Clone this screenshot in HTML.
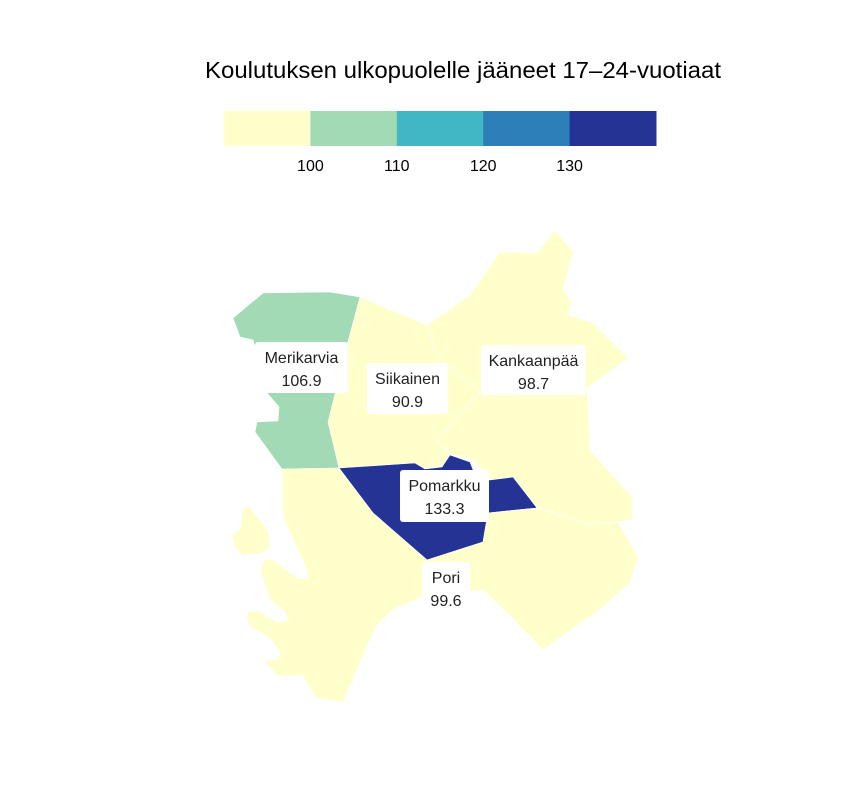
<!DOCTYPE html>
<html><head><meta charset="utf-8"><style>
body{margin:0;background:#fff;}
svg{display:block;font-family:"Liberation Sans",sans-serif;}
</style></head><body>
<svg width="864" height="792" viewBox="0 0 864 792">
<text x="463" y="78" text-anchor="middle" font-size="23" textLength="516" lengthAdjust="spacingAndGlyphs" fill="#000">Koulutuksen ulkopuolelle jääneet 17–24-vuotiaat</text>
<g id="legend"></g>
<g id="map"></g>
<g id="labels"></g>
</svg>
<script>
const regions=["Merikarvia","Siikainen","Kankaanpää","Pomarkku","Pori"];
const values=[106.9,90.9,98.7,133.3,99.6];
const breaks=[100,110,120,130];
const colors=["#ffffcc","#a1dab4","#41b6c4","#2c7fb8","#253494"];
const shapes={
"Merikarvia":["233,318 263,293 330,292 360,297 348,342 330,422 339,468 282,469 255,432 257,422 278,421 279,407 267,393 253,340 240,337"],
"Siikainen":["360,297 427,325 437,355 480,393 437,440 450,453 442,467 423,468 415,463 339,468 328,422 348,342"],
"Kankaanpää":["427,325 470,295 500,252 537,253 555,230 573,252 563,290 572,302 568,315 593,323 628,358 587,388 590,450 633,498 632,520 590,525 538,508 513,477 490,480 475,462 470,458 453,455 450,453 437,440 480,393 437,355"],
"Pomarkku":["339,468 415,463 425,469 442,467 450,455 470,462 477,480 490,480 513,477 537,508 488,513 483,542 427,560 373,513"],
"Pori":["282,469 339,468 373,513 427,560 483,542 488,513 537,508 590,525 618,522 638,557 630,583 603,607 543,650 507,613 483,590 422,597 392,610 375,628 343,702 317,698 302,675 278,676 263,660 278,660 280,652 270,638 252,628 247,620 248,612 258,611 277,622 288,620 285,612 270,600 260,570 265,560 272,559 297,578 308,579 307,570 283,517",
"232,535 240,530 243,507 250,507 268,530 270,547 262,553 243,555 235,547"]
};
const boxes={"Merikarvia":[255,342,93,51],"Siikainen":[367,363,81,51],"Kankaanpää":[481,345,105,50],"Pomarkku":[400,470,89,52],"Pori":[422,562,48,45]};
function colorFor(v){let i=0;while(i<breaks.length&&v>=breaks[i])i++;return colors[i];}
const NS="http://www.w3.org/2000/svg";
const lg=document.getElementById("legend");
const lx0=224,lw=86.4,ly=111,lh=35;
colors.forEach((c,i)=>{const r=document.createElementNS(NS,"rect");
r.setAttribute("x",lx0+i*lw);r.setAttribute("y",ly);r.setAttribute("width",lw+0.5);r.setAttribute("height",lh);r.setAttribute("fill",c);


lg.appendChild(r);});
breaks.forEach((b,i)=>{const t=document.createElementNS(NS,"text");
t.setAttribute("x",lx0+(i+1)*lw);t.setAttribute("y",171);t.setAttribute("text-anchor","middle");t.setAttribute("font-size","16");t.textContent=b;


lg.appendChild(t);});
const mg=document.getElementById("map"),lb=document.getElementById("labels");
regions.forEach((n,i)=>{shapes[n].forEach(p=>{const pl=document.createElementNS(NS,"polygon");
pl.setAttribute("points",p);pl.setAttribute("fill",colorFor(values[i]));pl.setAttribute("stroke","#fff");pl.setAttribute("stroke-width","0.6");


mg.appendChild(pl);});
const b=boxes[n];const r=document.createElementNS(NS,"rect");
r.setAttribute("x",b[0]);r.setAttribute("y",b[1]);r.setAttribute("width",b[2]);r.setAttribute("height",b[3]);r.setAttribute("rx",3);r.setAttribute("fill","#fff");


lb.appendChild(r);
const cx=b[0]+b[2]/2;
[[n,b[1]+21],[values[i].toFixed(1),b[1]+44]].forEach(([s,y])=>{const t=document.createElementNS(NS,"text");
t.setAttribute("x",cx);t.setAttribute("y",y);t.setAttribute("text-anchor","middle");t.setAttribute("font-size","16");t.setAttribute("fill","#222");t.textContent=s;


lb.appendChild(t);});
});
</script>
</body></html>
